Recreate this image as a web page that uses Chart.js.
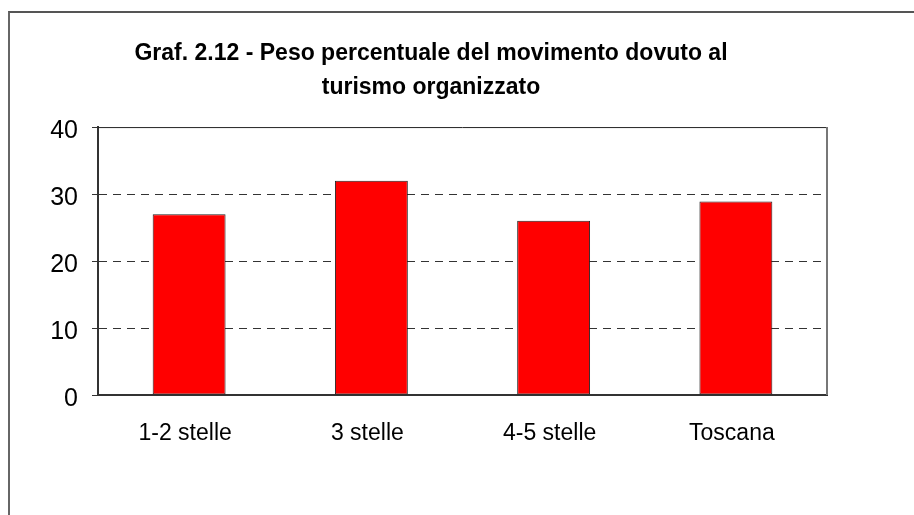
<!DOCTYPE html>
<html>
<head>
<meta charset="utf-8">
<script src="https://cdn.jsdelivr.net/npm/chart.js@4.4.1/dist/chart.umd.min.js"></script>
<style>
  html, body { margin: 0; padding: 0; background: #fff; }
  #wrap { position: relative; width: 914px; height: 515px; overflow: hidden; }
  #frame { position: absolute; left: 8px; top: 11px; width: 1000px; height: 1000px;
           border-left: 2px solid #666; border-top: 2px solid #555; }
  canvas { position: absolute; left: 0; top: 0; }
</style>
</head>
<body>
<div id="wrap">
  <div id="frame"></div>
  <canvas id="chart" width="914" height="515"></canvas>
</div>
<script>
const titleLines = ["Graf. 2.12 - Peso percentuale del movimento dovuto al", "turismo organizzato"];
const categories = ["1-2 stelle", "3 stelle", "4-5 stelle", "Toscana"];
const shares = [27.0, 32.0, 26.0, 28.9];
const yTicks = [0, 10, 20, 30, 40];

const FONT = "'Liberation Sans', Arial, sans-serif";

// solid box round the plot area
const plotFrame = {
  id: "plotFrame",
  afterDraw(chart) {
    const { ctx, chartArea: a } = chart;
    ctx.save();
    ctx.strokeStyle = "#222";
    ctx.lineWidth = 1;
    ctx.beginPath();
    ctx.moveTo(a.left, a.top + 0.5);
    ctx.lineTo(a.right, a.top + 0.5);
    ctx.stroke();
    ctx.strokeStyle = "#777";
    ctx.lineWidth = 2;
    ctx.beginPath();
    ctx.moveTo(a.right, a.top);
    ctx.lineTo(a.right, a.bottom);
    ctx.stroke();
    ctx.restore();
  },
};

new Chart(document.getElementById("chart"), {
  type: "bar",
  data: {
    labels: categories,
    datasets: [{
      data: shares,
      backgroundColor: "#ff0000",
      borderColor: "#222",
      borderWidth: 1,
      borderSkipped: false,
      barPercentage: 0.4,
      categoryPercentage: 1,
    }],
  },
  options: {
    responsive: false,
    animation: false,
    layout: { padding: { left: 35, right: 87, top: 10, bottom: 0 } },
    plugins: {
      legend: { display: false },
      tooltip: { enabled: false },
      title: {
        display: true,
        text: titleLines,
        color: "#000",
        font: { family: FONT, size: 23, weight: "bold", lineHeight: 1.48 },
        padding: { top: 27, bottom: 22 },
      },
    },
    scales: {
      x: {
        grid: { display: false, drawTicks: false },
        border: { display: true, color: "#333", width: 2 },
        ticks: { color: "#000", font: { family: FONT, size: 23 }, padding: 25, labelOffset: -4 },
        afterFit: (s) => { s.height = 120; },
      },
      y: {
        min: 0,
        max: 40,
        afterBuildTicks: (s) => { s.ticks = yTicks.map((v) => ({ value: v })); },
        grid: {
          color: (c) => (c.tick && (c.tick.value === 0 || c.tick.value === 40)) ? "rgba(0,0,0,0)" : "#333",
          tickColor: "#333",
          tickLength: 6,
          tickBorderDash: [],
          lineWidth: 1,
        },
        border: { display: true, color: "#333", width: 2, dash: [8, 6] },
        ticks: { color: "#000", font: { family: FONT, size: 25 }, padding: 14, labelOffset: 4 },
        afterFit: (s) => { s.width = 63; },
      },
    },
  },
  plugins: [plotFrame],
});
</script>
</body>
</html>
